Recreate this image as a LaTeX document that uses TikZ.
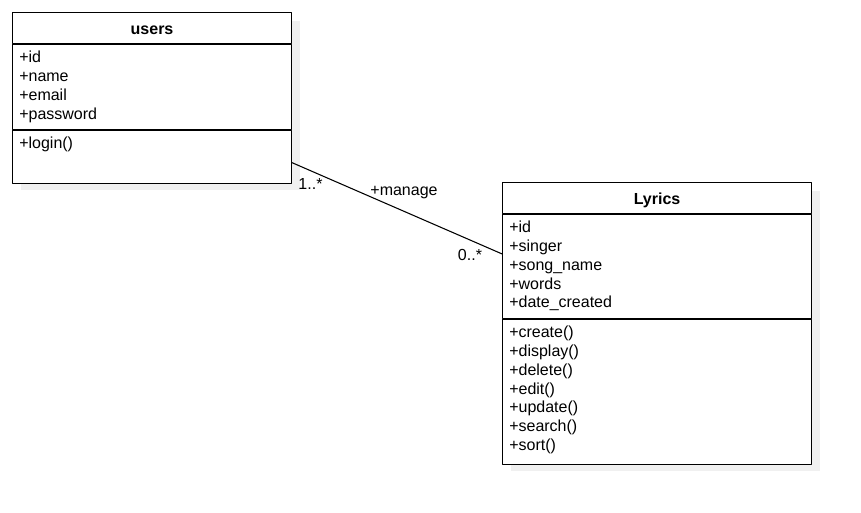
\documentclass[tikz,border=0pt]{standalone}
\usepackage{fontspec}
\setmainfont{Liberation Sans}
\usetikzlibrary{calc}
\definecolor{shadowgray}{HTML}{F0F0F0}

\tikzset{
  compart/.style={draw, fill=white, line width=0.8pt, anchor=north west, inner sep=0pt},
  member/.style={anchor=base west, inner sep=0pt, font=\fontsize{12}{14}\selectfont},
  classname/.style={anchor=base, inner sep=0pt, font=\fontsize{12}{14}\selectfont\bfseries},
  mult/.style={inner sep=0pt, font=\fontsize{12}{14}\selectfont}
}

\begin{document}
\begin{tikzpicture}[x=0.75pt, y=-0.75pt, line cap=round, line join=round]
\useasboundingbox (0,0) rectangle (861,512);
% shadows
\fill[shadowgray] (20.5,20.5) rectangle (299.5,189.5);
\fill[shadowgray] (510.5,190.5) rectangle (819.5,470.5);

% users
\node[compart, minimum width=209.25pt, minimum height=23.25pt] (usersT) at (12,12) {};
\node[compart, minimum width=209.25pt, minimum height=63.75pt] (usersA) at (usersT.south west) {};
\node[compart, minimum width=209.25pt, minimum height=39.75pt] (usersM) at (usersA.south west) {};
\node[classname] (usersName) at ($(usersT.center)+(0,6.5)$) {users};
\foreach \t [count=\i] in {+id,+name,+email,+password}
  \node[member] (ua\i) at ($(usersA.north west)+(7,18.75*\i)$) {\t};
\node[member] (um1) at ($(usersM.north west)+(7,18.75)$) {+login()};

% Lyrics
\node[compart, minimum width=231.75pt, minimum height=23.25pt] (lyricsT) at (502,182) {};
\node[compart, minimum width=231.75pt, minimum height=78pt] (lyricsA) at (lyricsT.south west) {};
\node[compart, minimum width=231.75pt, minimum height=108.75pt] (lyricsM) at (lyricsA.south west) {};
\node[classname] (lyricsName) at ($(lyricsT.center)+(0,6.5)$) {Lyrics};
\foreach \t [count=\i] in {+id,+singer,+song\_name,+words,+date\_created}
  \node[member] (la\i) at ($(lyricsA.north west)+(7,18.75*\i)$) {\t};
\foreach \t [count=\i] in {+create(),+display(),+delete(),+edit(),+update(),+search(),+sort()}
  \node[member] (lm\i) at ($(lyricsM.north west)+(7,18.75*\i)$) {\t};

% association
\draw[line width=0.8pt] ($(usersM.east)+(0,5.5)$) -- ($(lyricsA.west)+(0,-12.7)$);
\node[mult] (m1) at (310.5,184) {1..*};
\node[mult] (assoc) at (404,192.5) {+manage};
\node[mult] (m2) at (470,255) {0..*};
\end{tikzpicture}
\end{document}
